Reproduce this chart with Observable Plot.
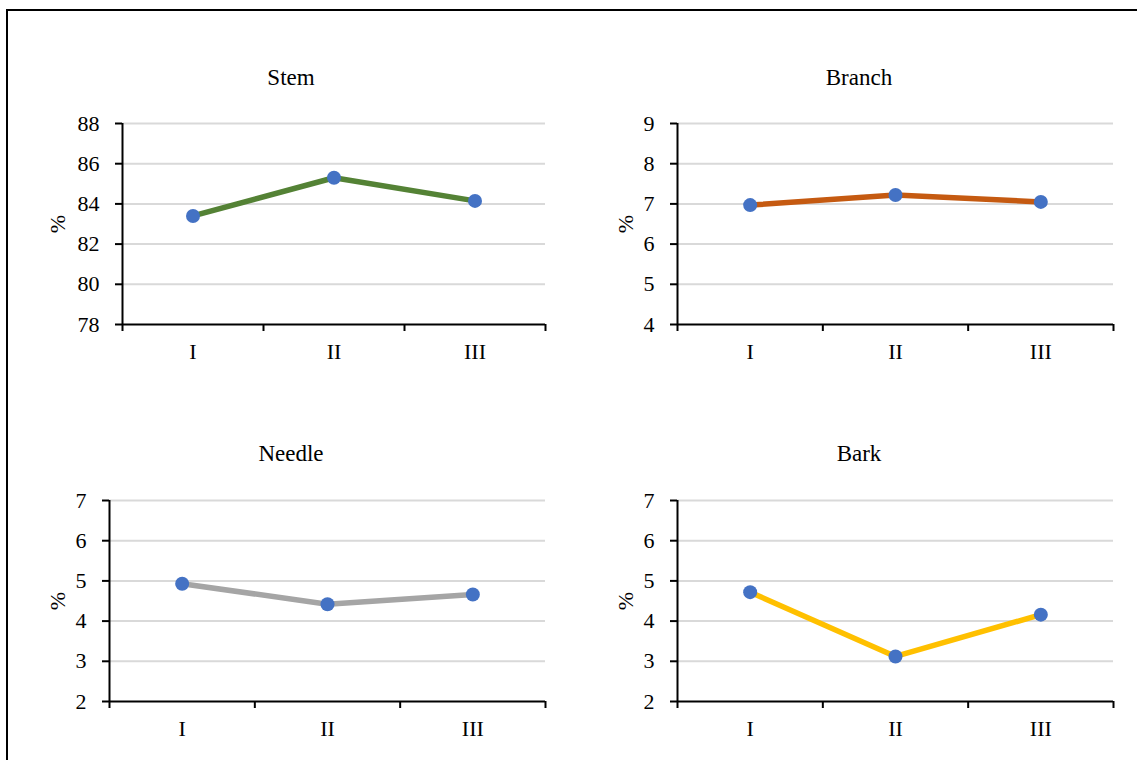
<!DOCTYPE html>
<html><head><meta charset="utf-8">
<script src="https://cdn.jsdelivr.net/npm/d3@7"></script>
<script src="https://cdn.jsdelivr.net/npm/@observablehq/plot@0.6"></script>
<style>
body{margin:0;background:#fff;width:1137px;height:760px;overflow:hidden;position:relative;font-family:"Liberation Serif","Times New Roman",serif;}
#frame{position:absolute;left:6px;top:9px;width:1140px;height:760px;border-top:2px solid #000;border-left:2px solid #000;box-sizing:border-box;}
.panel{position:absolute;}
.panel svg{overflow:visible;}
.panel svg, .panel svg g, .panel svg text{font-family:"Liberation Serif","Times New Roman",serif !important;font-size:22px !important;}
.title{position:absolute;font-size:23px;line-height:23px;text-align:center;width:400px;color:#000;}
[aria-label^="y-axis"] line,[aria-label^="y-axis"] path,[aria-label^="x-axis"] line,[aria-label^="x-axis"] path{stroke-width:2px;}
</style></head><body>
<div id="frame"></div>
<div id="root"></div>
<script>
const categories = ["I", "II", "III"];
const panelTitles = ["Stem", "Branch", "Needle", "Bark"];
const stemValues = [83.4, 85.3, 84.15];
const branchValues = [6.97, 7.22, 7.05];
const needleValues = [4.93, 4.42, 4.66];
const barkValues = [4.72, 3.12, 4.16];
const stemTicks = [78, 80, 82, 84, 86, 88];
const branchTicks = [4, 5, 6, 7, 8, 9];
const needleTicks = [2, 3, 4, 5, 6, 7];
const barkTicks = [2, 3, 4, 5, 6, 7];
const lineColors = ["#548235", "#c55a11", "#a5a5a5", "#ffc000"];
const dotColor = "#4472c4";
const yLabel = "%";

const seriesList = [stemValues, branchValues, needleValues, barkValues];
const tickList = [stemTicks, branchTicks, needleTicks, barkTicks];

// layout only
const layout = [
  {left: 0,   top: 100, width: 568, height: 280, ml: 122, mr: 23, mt: 23, mb: 56, tx: 291, ty: 66,  lo: 73},
  {left: 568, top: 100, width: 569, height: 280, ml: 109, mr: 24, mt: 23, mb: 56, tx: 859, ty: 66,  lo: 60},
  {left: 0,   top: 477, width: 568, height: 283, ml: 109, mr: 23, mt: 23, mb: 59, tx: 291, ty: 442, lo: 60},
  {left: 568, top: 477, width: 569, height: 283, ml: 109, mr: 24, mt: 23, mb: 59, tx: 859, ty: 442, lo: 60}
];

const root = document.getElementById("root");
const font = '"Liberation Serif","Times New Roman",serif';

seriesList.forEach((values, k) => {
  const L = layout[k];
  const ticks = tickList[k];
  const data = categories.map((c, i) => ({cat: c, idx: i, value: values[i]}));
  const boundaries = d3.range(categories.length + 1);
  const chart = Plot.plot({
    width: L.width,
    height: L.height,
    marginLeft: L.ml,
    marginRight: L.mr,
    marginTop: L.mt,
    marginBottom: L.mb,
    style: {fontFamily: font, fontSize: "22px", color: "#000", background: "transparent", overflow: "visible"},
    x: {domain: [0, categories.length], ticks: boundaries, tickFormat: () => "", tickSize: 7, label: null},
    y: {domain: [ticks[0], ticks[ticks.length - 1]], ticks: ticks, tickFormat: d => String(d), tickSize: 7, tickPadding: 16,
        label: yLabel, labelAnchor: "center", labelOffset: L.lo, labelArrow: false},
    marks: [
      Plot.ruleY(ticks.slice(1), {stroke: "#d9d9d9", strokeWidth: 2}),
      Plot.ruleY([ticks[0]], {stroke: "#000", strokeWidth: 2}),
      Plot.ruleX([0], {stroke: "#000", strokeWidth: 2}),
      Plot.line(data, {x: d => d.idx + 0.5, y: "value", stroke: lineColors[k], strokeWidth: 5.5}),
      Plot.dot(data, {x: d => d.idx + 0.5, y: "value", r: 7, fill: dotColor, stroke: "none"}),
      Plot.text(data, {x: d => d.idx + 0.5, text: "cat", frameAnchor: "bottom", dy: 34, fontSize: 22, fill: "#000"})
    ]
  });
  const wrap = document.createElement("div");
  wrap.className = "panel";
  wrap.style.left = L.left + "px";
  wrap.style.top = L.top + "px";
  wrap.appendChild(chart);
  root.appendChild(wrap);

  const t = document.createElement("div");
  t.className = "title";
  t.textContent = panelTitles[k];
  t.style.left = (L.tx - 200) + "px";
  t.style.top = L.ty + "px";
  root.appendChild(t);
});
</script>
</body></html>
